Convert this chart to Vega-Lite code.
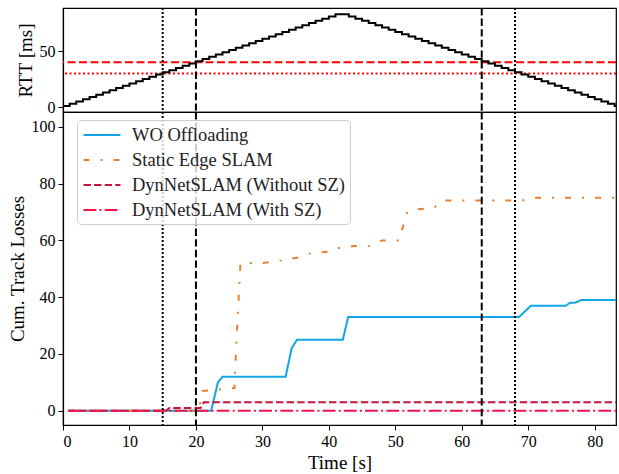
{
  "$schema": "https://vega.github.io/schema/vega-lite/v6.json",
  "autosize": {"type": "pad"},
  "padding": {"left": 7, "top": 6, "right": 0, "bottom": 2},
  "background": "white",
  "spacing": 0,
  "bounds": "flush",
  "resolve": {"legend": {"color": "independent", "strokeDash": "independent"}, "scale": {"strokeDash": "independent"}},
  "datasets": {
    "rtt": [
      {"t":0,"rtt":1},{"t":1,"rtt":3},{"t":2,"rtt":5},{"t":3,"rtt":7},{"t":4,"rtt":9},{"t":5,"rtt":11},{"t":6,"rtt":13},{"t":7,"rtt":15},{"t":8,"rtt":17},{"t":9,"rtt":19},
      {"t":10,"rtt":21},{"t":11,"rtt":23},{"t":12,"rtt":25},{"t":13,"rtt":27},{"t":14,"rtt":29},{"t":15,"rtt":31},{"t":16,"rtt":33},{"t":17,"rtt":35},{"t":18,"rtt":37},{"t":19,"rtt":39},
      {"t":20,"rtt":41},{"t":21,"rtt":43},{"t":22,"rtt":45},{"t":23,"rtt":47},{"t":24,"rtt":49},{"t":25,"rtt":51},{"t":26,"rtt":53},{"t":27,"rtt":55},{"t":28,"rtt":57},{"t":29,"rtt":59},
      {"t":30,"rtt":61},{"t":31,"rtt":63},{"t":32,"rtt":65},{"t":33,"rtt":67},{"t":34,"rtt":69},{"t":35,"rtt":71},{"t":36,"rtt":73},{"t":37,"rtt":75},{"t":38,"rtt":77},{"t":39,"rtt":79},
      {"t":40,"rtt":81},{"t":41,"rtt":83},{"t":42,"rtt":83},{"t":43,"rtt":81},{"t":44,"rtt":79},{"t":45,"rtt":77},{"t":46,"rtt":75},{"t":47,"rtt":73},{"t":48,"rtt":71},{"t":49,"rtt":69},
      {"t":50,"rtt":67},{"t":51,"rtt":65},{"t":52,"rtt":63},{"t":53,"rtt":61},{"t":54,"rtt":59},{"t":55,"rtt":57},{"t":56,"rtt":55},{"t":57,"rtt":53},{"t":58,"rtt":51},{"t":59,"rtt":49},
      {"t":60,"rtt":47},{"t":61,"rtt":45},{"t":62,"rtt":43},{"t":63,"rtt":41},{"t":64,"rtt":39},{"t":65,"rtt":37},{"t":66,"rtt":35},{"t":67,"rtt":33},{"t":68,"rtt":31},{"t":69,"rtt":29},
      {"t":70,"rtt":27},{"t":71,"rtt":25},{"t":72,"rtt":23},{"t":73,"rtt":21},{"t":74,"rtt":19},{"t":75,"rtt":17},{"t":76,"rtt":15},{"t":77,"rtt":13},{"t":78,"rtt":11},{"t":79,"rtt":9},
      {"t":80,"rtt":7},{"t":81,"rtt":5},{"t":82,"rtt":3},{"t":83,"rtt":1},{"t":83.2,"rtt":1}
    ],
    "vdotted": [{"t":15},{"t":68}],
    "vdashed": [{"t":20},{"t":63}],
    "hdashed": [{"v":40}],
    "hdotted": [{"v":30}],
    "losses": [
      {"s":"WO Offloading","t":0.8,"v":0},{"s":"WO Offloading","t":22.3,"v":0},{"s":"WO Offloading","t":23.3,"v":10},{"s":"WO Offloading","t":24,"v":12},
      {"s":"WO Offloading","t":33.5,"v":12},{"s":"WO Offloading","t":34.4,"v":22},{"s":"WO Offloading","t":35.2,"v":25},{"s":"WO Offloading","t":42.1,"v":25},
      {"s":"WO Offloading","t":42.9,"v":33},{"s":"WO Offloading","t":68.6,"v":33},{"s":"WO Offloading","t":70.4,"v":37},{"s":"WO Offloading","t":75.6,"v":37},
      {"s":"WO Offloading","t":76.3,"v":38},{"s":"WO Offloading","t":77,"v":38},{"s":"WO Offloading","t":78,"v":39},{"s":"WO Offloading","t":83.2,"v":39},
      {"s":"Static Edge SLAM","t":0.8,"v":0},{"s":"Static Edge SLAM","t":20.4,"v":0},{"s":"Static Edge SLAM","t":21,"v":7},{"s":"Static Edge SLAM","t":25.8,"v":8},
      {"s":"Static Edge SLAM","t":26,"v":20},{"s":"Static Edge SLAM","t":26.7,"v":52},{"s":"Static Edge SLAM","t":30,"v":52},{"s":"Static Edge SLAM","t":33,"v":53},
      {"s":"Static Edge SLAM","t":35.3,"v":54},{"s":"Static Edge SLAM","t":37.3,"v":55.5},{"s":"Static Edge SLAM","t":39.8,"v":56},{"s":"Static Edge SLAM","t":41.5,"v":57.3},
      {"s":"Static Edge SLAM","t":43.8,"v":58},{"s":"Static Edge SLAM","t":46,"v":58},{"s":"Static Edge SLAM","t":48,"v":60},{"s":"Static Edge SLAM","t":50.6,"v":60},
      {"s":"Static Edge SLAM","t":51,"v":63.7},{"s":"Static Edge SLAM","t":51.8,"v":70},{"s":"Static Edge SLAM","t":53.5,"v":71},{"s":"Static Edge SLAM","t":55.8,"v":71.5},
      {"s":"Static Edge SLAM","t":57.2,"v":74},{"s":"Static Edge SLAM","t":69,"v":74},{"s":"Static Edge SLAM","t":71,"v":75},{"s":"Static Edge SLAM","t":83.2,"v":75},
      {"s":"DynNetSLAM (Without SZ)","t":0.8,"v":0},{"s":"DynNetSLAM (Without SZ)","t":15.5,"v":0},{"s":"DynNetSLAM (Without SZ)","t":16,"v":1},
      {"s":"DynNetSLAM (Without SZ)","t":20.7,"v":1},{"s":"DynNetSLAM (Without SZ)","t":21.2,"v":3},{"s":"DynNetSLAM (Without SZ)","t":83.2,"v":3},
      {"s":"DynNetSLAM (With SZ)","t":0.8,"v":0},{"s":"DynNetSLAM (With SZ)","t":83.2,"v":0}
    ]
  },
  "vconcat": [
    {
      "width": 553,
      "height": 104,
      "layer": [
        {
          "data": {"name": "hdashed"},
          "mark": {"type": "rule", "color": "#ff0000", "strokeWidth": 2, "strokeDash": [8, 3.5]},
          "encoding": {"y": {"field": "v", "type": "quantitative"}}
        },
        {
          "data": {"name": "hdotted"},
          "mark": {"type": "rule", "color": "#ff0000", "strokeWidth": 2, "strokeDash": [2, 2.5]},
          "encoding": {"y": {"field": "v", "type": "quantitative"}}
        },
        {
          "data": {"name": "rtt"},
          "mark": {"type": "line", "interpolate": "step-after", "color": "black", "strokeWidth": 2},
          "encoding": {
            "x": {"field": "t", "type": "quantitative", "scale": {"domain": [0, 83.2], "nice": false}, "axis": null},
            "y": {"field": "rtt", "type": "quantitative", "scale": {"domain": [-4.4, 88.5], "nice": false, "zero": false},
                  "axis": {"values": [0, 50], "title": "RTT [ms]"}}
          }
        },
        {
          "data": {"name": "vdashed"},
          "mark": {"type": "rule", "color": "black", "strokeWidth": 2, "strokeDash": [7.4, 3.2]},
          "encoding": {"x": {"field": "t", "type": "quantitative"}}
        },
        {
          "data": {"name": "vdotted"},
          "mark": {"type": "rule", "color": "black", "strokeWidth": 2, "strokeDash": [2, 2]},
          "encoding": {"x": {"field": "t", "type": "quantitative"}}
        }
      ]
    },
    {
      "width": 553,
      "height": 313,
      "layer": [
        {
          "data": {"name": "losses"},
          "mark": {"type": "line", "strokeWidth": 2},
          "encoding": {
            "x": {"field": "t", "type": "quantitative", "scale": {"domain": [0, 83.2], "nice": false},
                  "axis": {"values": [0, 10, 20, 30, 40, 50, 60, 70, 80], "title": "Time [s]"}},
            "y": {"field": "v", "type": "quantitative", "scale": {"domain": [-5, 105.2], "nice": false, "zero": false},
                  "axis": {"values": [0, 20, 40, 60, 80, 100], "title": "Cum. Track Losses"}},
            "color": {"field": "s", "type": "nominal",
              "scale": {"domain": ["WO Offloading", "Static Edge SLAM", "DynNetSLAM (Without SZ)", "DynNetSLAM (With SZ)"],
                        "range": ["#12a5e6", "#e9802f", "#c4143e", "#f5124a"]},
              "legend": {"title": null, "orient": "none", "legendX": 14, "legendY": 8}},
            "strokeDash": {"field": "s", "type": "nominal",
              "scale": {"domain": ["WO Offloading", "Static Edge SLAM", "DynNetSLAM (Without SZ)", "DynNetSLAM (With SZ)"],
                        "range": [[1, 0], [6, 11, 2, 11], [7.4, 3.2], [12.8, 3.2, 2, 3.2]]},
              "legend": {"title": null, "orient": "none", "legendX": 14, "legendY": 8}},
            "order": {"field": "t", "type": "quantitative"}
          }
        },
        {
          "data": {"name": "vdashed"},
          "mark": {"type": "rule", "color": "black", "strokeWidth": 2, "strokeDash": [7.4, 3.2]},
          "encoding": {"x": {"field": "t", "type": "quantitative"}}
        },
        {
          "data": {"name": "vdotted"},
          "mark": {"type": "rule", "color": "black", "strokeWidth": 2, "strokeDash": [2, 2]},
          "encoding": {"x": {"field": "t", "type": "quantitative"}}
        }
      ]
    }
  ],
  "config": {
    "view": {"stroke": "black", "strokeWidth": 1.2},
    "font": "Liberation Serif",
    "axis": {
      "grid": false,
      "domainColor": "black",
      "domainWidth": 1.2,
      "tickColor": "black",
      "tickSize": 5,
      "tickWidth": 1,
      "labelFont": "Liberation Serif",
      "labelFontSize": 16,
      "labelColor": "black",
      "labelPadding": 3,
      "titleFont": "Liberation Serif",
      "titleFontSize": 19,
      "titleFontWeight": "normal",
      "titleColor": "black"
    },
    "legend": {
      "symbolType": "M-1.85,0L1.85,0",
      "symbolSize": 400,
      "symbolStrokeWidth": 2,
      "symbolOffset": 10,
      "labelFont": "Liberation Serif",
      "labelFontSize": 18.5,
      "labelColor": "#222222",
      "labelOffset": 19,
      "rowPadding": 4,
      "padding": 4,
      "strokeColor": "#cccccc",
      "fillColor": "rgba(255,255,255,0.8)",
      "cornerRadius": 4,
      "labelLimit": 400
    }
  }
}
